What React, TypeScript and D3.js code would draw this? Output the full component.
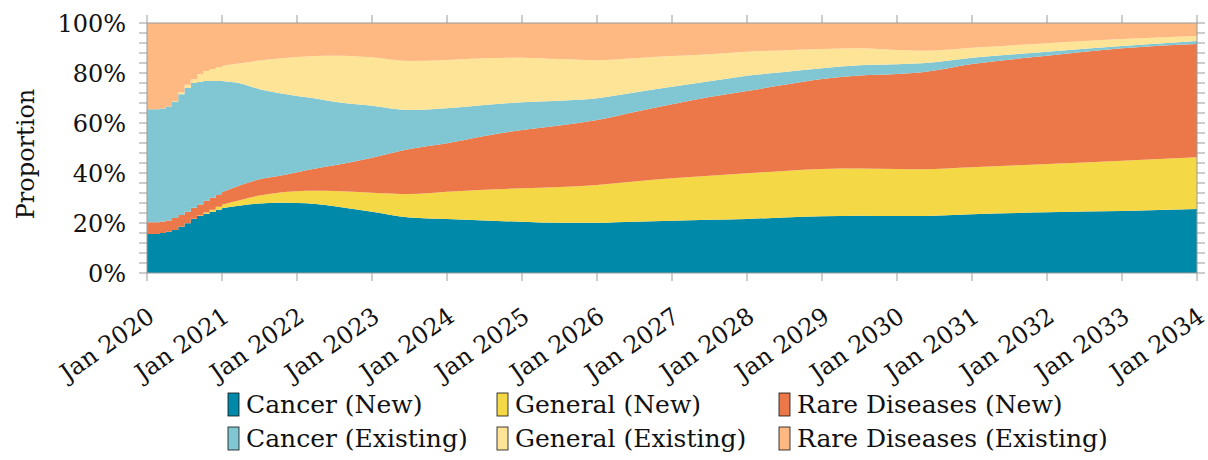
import React from "react";
import * as d3 from "d3";

// Month index since Jan 2020
const months = [0, 2, 3, 4, 5, 6, 7, 8, 9, 10, 11, 12, 15, 18, 21, 24, 27, 30, 36, 42, 48, 54, 60, 66, 72, 78, 84, 90, 96, 102, 108, 114, 120, 124, 132, 144, 156, 168];

// Proportions (%) per series
const cancerNew = [15.6, 16.0, 16.5, 17.2, 18.5, 19.9, 21.6, 22.8, 23.7, 24.5, 25.3, 25.9, 27.0, 27.8, 28.1, 28.0, 27.6, 26.7, 24.5, 22.2, 21.6, 21.0, 20.5, 20.1, 20.1, 20.5, 20.9, 21.3, 21.6, 22.2, 22.7, 22.9, 22.8, 22.8, 23.5, 24.3, 24.8, 25.6];
const generalNew = [0, 0, 0, 0, 0, 0, 0.1, 0.2, 0.5, 0.8, 1.2, 1.4, 2.2, 3.2, 4.0, 4.7, 5.3, 6.1, 7.6, 9.4, 10.9, 12.3, 13.4, 14.3, 15.1, 16.1, 17.0, 17.6, 18.3, 18.6, 18.9, 18.9, 18.8, 18.7, 18.8, 19.3, 20.1, 20.7];
const rareNew = [4.7, 4.6, 4.5, 4.8, 4.7, 4.6, 4.4, 4.4, 4.7, 4.8, 4.7, 5.0, 6.0, 6.5, 6.7, 7.6, 8.9, 10.3, 14.0, 18.0, 19.4, 21.5, 23.3, 24.6, 26.0, 27.8, 29.6, 31.5, 32.9, 34.5, 36.0, 37.2, 38.0, 38.8, 41.3, 43.3, 45.0, 45.3];
const cancerExisting = [45.2, 45.2, 45.6, 46.5, 48.3, 49.5, 49.9, 49.1, 47.9, 46.7, 45.6, 44.5, 40.6, 36.0, 33.2, 30.5, 28.0, 25.4, 20.8, 15.6, 14.0, 12.4, 11.1, 9.9, 8.7, 7.8, 7.0, 6.3, 6.1, 5.1, 4.3, 4.1, 3.9, 3.6, 2.5, 1.6, 0.9, 1.2];
const generalExisting = [0, 0, 0, 0.2, 0.8, 1.3, 1.5, 3.0, 4.0, 4.8, 5.5, 6.0, 8.1, 11.5, 13.8, 15.6, 17.0, 18.4, 19.4, 19.6, 19.3, 18.7, 17.8, 16.7, 15.2, 13.7, 12.3, 10.8, 9.6, 8.7, 7.7, 6.8, 5.7, 5.0, 4.0, 3.4, 2.8, 2.0];
const rareExisting = [34.5, 34.2, 33.4, 31.3, 27.7, 24.7, 22.5, 20.5, 19.2, 18.4, 17.7, 17.2, 16.1, 15.0, 14.2, 13.6, 13.2, 13.1, 13.7, 15.2, 14.8, 14.1, 13.9, 14.4, 14.9, 14.1, 13.2, 12.5, 11.5, 10.9, 10.4, 10.1, 10.8, 11.1, 9.9, 8.1, 6.4, 5.2];

const seriesNames = ["Cancer (New)", "General (New)", "Rare Diseases (New)", "Cancer (Existing)", "General (Existing)", "Rare Diseases (Existing)"];
const seriesValues = [cancerNew, generalNew, rareNew, cancerExisting, generalExisting, rareExisting];
const seriesColors = ["#0089A8", "#F5D846", "#EC784A", "#80C6D3", "#FEE497", "#FEB982"];

const xTickLabels = ["Jan 2020", "Jan 2021", "Jan 2022", "Jan 2023", "Jan 2024", "Jan 2025", "Jan 2026", "Jan 2027", "Jan 2028", "Jan 2029", "Jan 2030", "Jan 2031", "Jan 2032", "Jan 2033", "Jan 2034"];
const yTicks = [0, 20, 40, 60, 80, 100];

const W = 1208, H = 460;
const M = { left: 147, right: 1197, top: 23, bottom: 273 };
const FONT = "'DejaVu Serif', serif";
const GRAY = "#9a9a9a";

export default function App() {
  const x = d3.scaleLinear().domain([0, 168]).range([M.left, M.right]);
  const y = d3.scaleLinear().domain([0, 100]).range([M.bottom, M.top]);

  const rows = months.map((m, i) => {
    const r: any = { m };
    seriesNames.forEach((n, k) => (r[n] = seriesValues[k][i]));
    return r;
  });
  const stacked = d3.stack().keys(seriesNames)(rows as any);
  // monthly part (first year) drawn as steps, rest smooth
  const splitIdx = months.indexOf(12);
  const areaStep = d3
    .area<any>()
    .x((d) => x(d.data.m))
    .y0((d) => y(d[0]))
    .y1((d) => y(Math.min(100, d[1])))
    .curve(d3.curveStepAfter);
  const areaSmooth = d3
    .area<any>()
    .x((d) => x(d.data.m))
    .y0((d) => y(d[0]))
    .y1((d) => y(Math.min(100, d[1])))
    .curve(d3.curveMonotoneX);

  const minorY = d3.range(0, 101, 4);
  const xTickVals = xTickLabels.map((_, i) => i * 12);

  const legendCols = [228, 497, 779];
  const legendRows = [393, 427];

  return (
    <svg width={W} height={H} style={{ position: "absolute", left: 0, top: 0 }} fontFamily={FONT}>
      <rect width={W} height={H} fill="#fff" />
      {stacked.map((s, k) => (
        <g key={k} fill={seriesColors[k]}>
          <path d={areaStep((s as any).slice(0, splitIdx + 1)) || ""} />
          <path d={areaSmooth((s as any).slice(splitIdx)) || ""} />
        </g>
      ))}
      {/* frame */}
      <rect x={M.left} y={M.top} width={M.right - M.left} height={M.bottom - M.top} fill="none" stroke={GRAY} strokeWidth={1} />
      {/* y ticks both sides */}
      {minorY.map((v) => (
        <g key={v} stroke={GRAY} strokeWidth={1}>
          <line x1={M.left - 8} x2={M.left} y1={y(v)} y2={y(v)} />
          <line x1={M.right} x2={M.right + 8} y1={y(v)} y2={y(v)} />
        </g>
      ))}
      {/* x ticks top & bottom */}
      {xTickVals.map((v) => (
        <g key={v} stroke={GRAY} strokeWidth={1}>
          <line x1={x(v)} x2={x(v)} y1={M.bottom} y2={M.bottom + 8} />
          <line x1={x(v)} x2={x(v)} y1={M.top - 8} y2={M.top} />
        </g>
      ))}
      {yTicks.map((v) => (
        <text key={v} x={M.left - 21} y={y(v)} dy="0.36em" textAnchor="end" fontSize={24} fill="#111">
          {v}%
        </text>
      ))}
      {xTickLabels.map((t, i) => (
        <text
          key={t}
          transform={`translate(${x(xTickVals[i]) + 9},${M.bottom + 47}) rotate(-35)`}
          textAnchor="end"
          fontSize={24}
          fill="#111"
        >
          {t}
        </text>
      ))}
      <text transform={`translate(34,154) rotate(-90)`} textAnchor="middle" fontSize={24} fill="#111">
        Proportion
      </text>
      {seriesNames.map((n, k) => {
        const cx = legendCols[k % 3];
        const cy = legendRows[Math.floor(k / 3)];
        return (
          <g key={n}>
            <rect x={cx} y={cy} width={11} height={23} fill={seriesColors[k]} stroke="#111" strokeWidth={0.8} />
            <text x={cx + 18} y={cy + 20} fontSize={25} fill="#111">
              {n}
            </text>
          </g>
        );
      })}
    </svg>
  );
}
